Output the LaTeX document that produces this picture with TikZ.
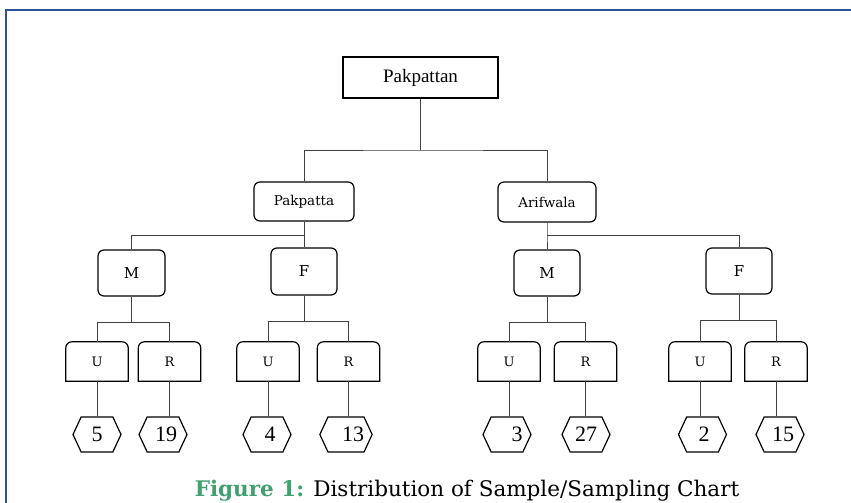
\documentclass[tikz,border=0pt]{standalone}
\usepackage{fontspec}
\setmainfont{Liberation Serif}
\newfontfamily\capfont{DejaVu Serif}
\usepackage{xcolor}
\usetikzlibrary{shapes.symbols, calc}
\definecolor{frameblue}{RGB}{47,84,150}
\definecolor{figgreen}{RGB}{64,160,112}

\begin{document}
\begin{tikzpicture}[
  x=1pt, y=-1pt,
  box/.style={rectangle, draw, line width=1.2pt, rounded corners=6pt, align=center,
    inner sep=0pt, font=\capfont\fontsize{13.5}{15}\selectfont},
  sexbox/.style={box, font=\capfont\fontsize{15}{17}\selectfont},
  topbox/.style={box, rounded corners=0pt, minimum width=155pt, minimum height=41pt,
    font=\fontsize{19}{22}\selectfont},
  leaf/.style={inner sep=0pt, minimum width=62pt, minimum height=39pt,
    font=\capfont\fontsize{13}{15}\selectfont},
  hexa/.style={signal, signal to=east and west, signal pointer angle=130, draw,
    line width=1.2pt, inner sep=0pt, minimum width=48pt, minimum height=35pt,
    font=\fontsize{22}{24}\selectfont},
  link/.style={draw=black!75, line width=0.9pt}
]
\useasboundingbox (0,0) rectangle (851,503);
\draw[frameblue, line width=2.5pt] (6,503) -- (6,10) -- (851,10);

% district and tehsils
\node[topbox] (top) at (420.5,77.5) {Pakpattan};
\node[box, minimum width=100pt, minimum height=39pt] (pk) at (304,201.5) {Pakpatta};
\node[box, minimum width=98pt, minimum height=40pt] (ar) at (547,202) {Arifwala};

% gender
\node[sexbox, minimum width=67pt, minimum height=46pt] (m1) at (131.5,273) {M};
\node[sexbox, minimum width=66pt, minimum height=47pt] (f1) at (304,271.5) {F};
\node[sexbox, minimum width=66pt, minimum height=46pt] (m2) at (547,273) {M};
\node[sexbox, minimum width=66pt, minimum height=46pt] (f2) at (739,271) {F};

% urban / rural
\node[leaf] (u1) at (97,361.5) {U};
\node[leaf] (r1) at (169.5,361.5) {R};
\node[leaf] (u2) at (268,361.5) {U};
\node[leaf] (r2) at (348.5,361.5) {R};
\node[leaf] (u3) at (509,361.5) {U};
\node[leaf] (r3) at (585.5,361.5) {R};
\node[leaf] (u4) at (700,361.5) {U};
\node[leaf] (r4) at (776,361.5) {R};
\foreach \n in {u1,r1,u2,r2,u3,r3,u4,r4}
  \draw[line width=1.2pt] (\n.south west) [rounded corners=6pt] -- (\n.north west)
    -- (\n.north east) [sharp corners] -- (\n.south east) -- cycle;

% sample sizes
\node[hexa] (h1) at (97,434.5) {5};
\node[hexa] (h2) at (163,434.5) {\hspace*{6pt}19};
\node[hexa] (h3) at (267,434.5) {\hspace*{6pt}4};
\node[hexa] (h4) at (346,434.5) {\hspace*{14pt}13};
\node[hexa] (h5) at (507,434.5) {\hspace*{20pt}3};
\node[hexa] (h6) at (586,434.5) {27};
\node[hexa] (h7) at (702.5,434.5) {\hspace*{3pt}2};
\node[hexa] (h8) at (780,434.5) {\hspace*{6pt}15};

% connectors
\coordinate (b0) at (420.5,150);
\draw[link] (top) -- (b0);
\draw[link] (pk.north) |- (b0) -| (ar.north);
\draw[link] (pk.south) -- ++(0,14) coordinate (b1) -| (m1.north);
\draw[link] (b1) -- (f1.north);
\draw[link] (ar.south) -- ++(0,13) coordinate (b2) -- (m2.north);
\draw[link] (b2) -| (f2.north);
\foreach \g/\u/\r in {m1/u1/r1, f1/u2/r2, m2/u3/r3, f2/u4/r4} {
  \draw[link] (\g.south) -- ++(0,26) coordinate (bb) -| (\u.north);
  \draw[link] (bb) -| (\r.north);
}
\foreach \b/\h in {u1/h1, r1/h2, u2/h3, r2/h4, u3/h5, r3/h6, u4/h7, r4/h8}
  \draw[link] (\b.south) -- (\b.south |- \h.north);

\node[font=\capfont\fontsize{21.5}{24}\selectfont, anchor=base] (cap) at (467,496)
  {\textcolor{figgreen}{\textbf{Figure 1:}} Distribution of Sample/Sampling Chart};
\end{tikzpicture}
\end{document}
